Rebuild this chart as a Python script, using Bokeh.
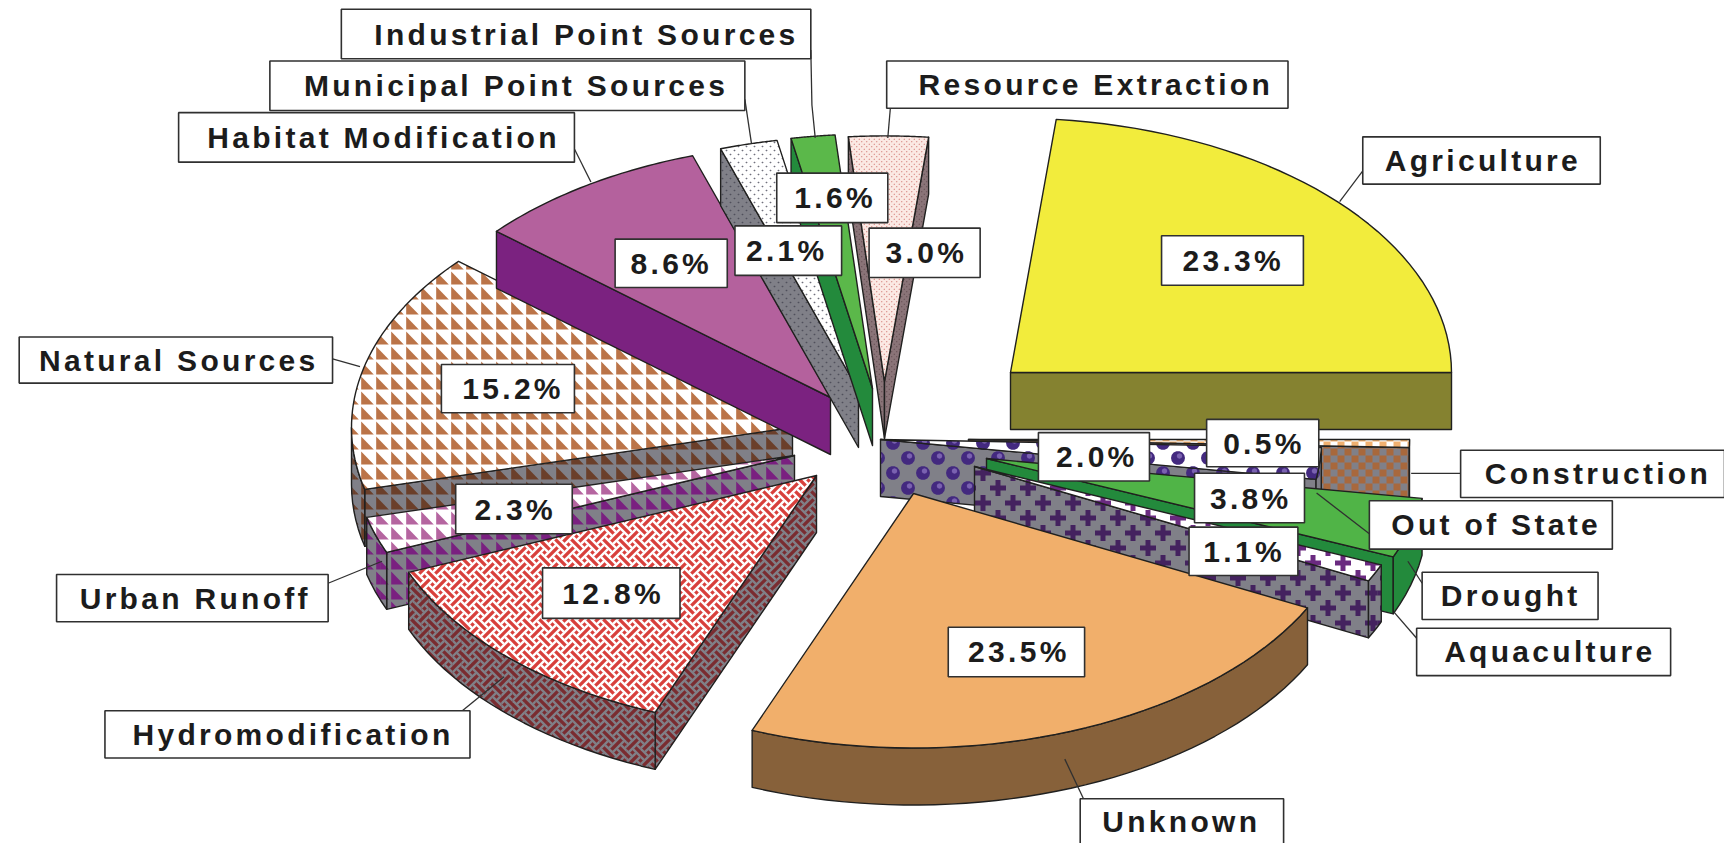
import math
from bokeh.core.properties import value
from bokeh.embed import file_html
from bokeh.models import Range1d
from bokeh.plotting import figure
from bokeh.resources import INLINE

# ---- data ----
categories = ["Agriculture", "Construction", "Out of State", "Drought", "Aquaculture", "Unknown",
              "Hydromodification", "Urban Runoff", "Natural Sources", "Habitat Modification",
              "Municipal Point Sources", "Industrial Point Sources", "Resource Extraction"]
percents = [23.3, 0.5, 2.0, 3.8, 1.1, 23.5, 12.8, 2.3, 15.2, 8.6, 2.1, 1.6, 3.0]

# ---- layout (screen pixels) ----
apex_x = [1010, 968, 880, 986, 974, 913, 816, 794, 792, 830, 858, 872, 884]
apex_y = [372, 439, 439, 458, 466, 493, 475, 455, 427, 397, 390, 388, 381]
radius_factor = [1, 1, 1, 1, 1, 1, 1, 1, 1, 1, 1, 1, 0.965]
RX, RY, DEPTH = 441, 254.5, 57
draw_order = ["Agriculture", "Resource Extraction", "Natural Sources", "Urban Runoff", "Habitat Modification",
              "Municipal Point Sources", "Industrial Point Sources", "Construction", "Out of State",
              "Drought", "Aquaculture", "Hydromodification", "Unknown"]


# ---- fill textures, drawn as small clipped shapes ----
def circle(cx, cy, r, n=14):
    return [(cx + r * math.cos(2 * math.pi * k / n), cy + r * math.sin(2 * math.pi * k / n)) for k in range(n)]


def strip(x0, y0, x1, y1, w):
    dx, dy = x1 - x0, y1 - y0
    L = math.hypot(dx, dy)
    nx, ny = -dy / L * w / 2, dx / L * w / 2
    return [(x0 + nx, y0 + ny), (x1 + nx, y1 + ny), (x1 - nx, y1 - ny), (x0 - nx, y0 - ny)]


def tri_tile(s):
    return [[(0.7, 1), (0.7, s - 1), (s - 1.7, s - 1)]]


def weave_tile(s):
    q, out = s / 8, []
    for off in (-1, 1):
        out.append(strip(-2.7 * q + off * q, -2.7 * q - off * q, 2.7 * q + off * q, 2.7 * q - off * q, 2.3))
        cx, cy = s / 2, s / 2
        out.append(strip(cx - 2.7 * q + off * q, cy + 2.7 * q + off * q, cx + 2.7 * q + off * q, cy - 2.7 * q + off * q, 2.3))
    return out


def dots_tile(s):
    r = s / 8
    return [circle(s / 4, s / 4, r, 6), circle(3 * s / 4, 3 * s / 4, r, 6)]


def balls_tile(s):
    return [circle(s / 4, s / 4, 7), circle(3 * s / 4, 3 * s / 4, 7)]


def shine_tile(s):
    return [circle(s / 4 + 1.5, s / 4 - 2, 2.8, 8), circle(3 * s / 4 + 1.5, 3 * s / 4 - 2, 2.8, 8)]


def plus_tile(s):
    out = []
    for c in (s / 4, 3 * s / 4):
        out.append([(c - 8, c - 2.5), (c + 8, c - 2.5), (c + 8, c + 2.5), (c - 8, c + 2.5)])
        out.append([(c - 2.5, c - 8), (c + 2.5, c - 8), (c + 2.5, c + 8), (c - 2.5, c + 8)])
    return out


def check_tile(s):
    h = s / 2
    return [[(0, 0), (h, 0), (h, h), (0, h)], [(h, h), (s, h), (s, s), (h, s)]]


# category: top base, top motif colour, side base, side motif colour, motif, tile, highlight
style = {
    "Agriculture": ("#f2ec3c", None, "#858230", None, None, 0, None),
    "Construction": ("#ffffff", "#f0b070", "#808088", "#a8683c", check_tile, 14, None),
    "Out of State": ("#ffffff", "#43297f", "#808088", "#43297f", balls_tile, 30, shine_tile),
    "Drought": ("#50b447", None, "#238a3c", None, None, 0, None),
    "Aquaculture": ("#ffffff", "#6a2a80", "#808088", "#44225f", plus_tile, 30, None),
    "Unknown": ("#f1af6b", None, "#87613a", None, None, 0, None),
    "Hydromodification": ("#d8403c", "#ffffff", "#7a2c30", "#808088", weave_tile, 16, None),
    "Urban Runoff": ("#ffffff", "#b565a0", "#808088", "#7a2080", tri_tile, 15, None),
    "Natural Sources": ("#ffffff", "#bb7448", "#808088", "#6b3f2a", tri_tile, 15, None),
    "Habitat Modification": ("#b4619d", None, "#7b2280", None, None, 0, None),
    "Municipal Point Sources": ("#ffffff", "#70707c", "#808088", "#50505c", dots_tile, 8, None),
    "Industrial Point Sources": ("#5bb84a", None, "#238a3c", None, None, 0, None),
    "Resource Extraction": ("#fbe9e4", "#c8605c", "#8a7478", "#5a4448", dots_tile, 5, None),
}

S = 1724 / 1568
name_x0 = [1239, 1328, 1245, 1293, 1288, 982, 95, 51, 17, 162, 245, 310, 806]
name_x1 = [1455, 1568, 1466, 1453, 1519, 1167, 427, 298, 302, 522, 677, 737, 1171]
name_y0 = [124, 409, 455, 520, 571, 726, 646, 522, 306, 102, 55, 8, 55]
name_y1 = [167, 452, 499, 563, 614, 767, 689, 565, 348, 147, 100, 53, 98]
name_tx = [1259, 1350, 1265, 1310, 1313, 1002, 120, 72, 35, 188, 276, 340, 835]
pct_x0 = [1056, 1097, 944, 1086, 1081, 862, 493, 414, 401, 559, 668, 706, 790]
pct_x1 = [1185, 1199, 1045, 1186, 1180, 986, 618, 520, 522, 661, 765, 807, 891]
pct_y0 = [214, 381, 393, 430, 479, 570, 516, 440, 331, 217, 205, 157, 207]
pct_y1 = [259, 424, 437, 475, 523, 615, 562, 485, 375, 261, 250, 202, 252]
pct_tx = [1075, 1112, 960, 1100, 1094, 880, 511, 431, 420, 573, 678, 722, 805]
leader_x = [[1218, 1239], [1283, 1328], [1197, 1245], [1280, 1293], [1268, 1288], [968, 985], [458, 415],
            [347, 298], [327, 302], [537, 522], [683, 677], [741, 738, 737], [807, 810]]
leader_y = [[183, 155], [430, 430], [448, 485], [510, 530], [557, 580], [690, 726], [615, 650],
            [510, 530], [333, 326], [165, 135], [130, 90], [125, 95, 45], [125, 90]]

# ---- figure ----
p = figure(width=1724, height=843, x_range=Range1d(0, 1724), y_range=Range1d(843, 0),
           x_axis_type=None, y_axis_type=None, toolbar_location=None, output_backend="svg",
           min_border=0, outline_line_color=None, background_fill_color="white")
p.grid.visible = False
p.styles = {"letter-spacing": "3.3px", "-webkit-text-stroke": "0.5px #1c1c1c"}

OUT = "#20201f"


def clip(subject, hull):
    """Clip a small shape against a convex polygon."""
    area = sum(hull[i][0] * hull[(i + 1) % len(hull)][1] - hull[(i + 1) % len(hull)][0] * hull[i][1]
               for i in range(len(hull)))
    sign = 1 if area > 0 else -1
    out = subject
    for i in range(len(hull)):
        ax, ay = hull[i]
        bx, by = hull[(i + 1) % len(hull)]
        if (ax, ay) == (bx, by):
            continue
        side = lambda q: sign * ((bx - ax) * (q[1] - ay) - (by - ay) * (q[0] - ax))
        new = []
        for k in range(len(out)):
            c, d = out[k], out[(k + 1) % len(out)]
            sc, sd = side(c), side(d)
            if sc >= 0:
                new.append(c)
            if sc * sd < 0:
                f = sc / (sc - sd)
                new.append((c[0] + f * (d[0] - c[0]), c[1] + f * (d[1] - c[1])))
        out = new
        if not out:
            break
    return out


def textured(hulls, motif, tile, color):
    xs, ys = [], []
    tile_shapes = motif(tile)
    for hull in hulls:
        x0, x1 = min(q[0] for q in hull), max(q[0] for q in hull)
        y0, y1 = min(q[1] for q in hull), max(q[1] for q in hull)
        for i in range(int(x0 // tile) - 1, int(x1 // tile) + 2):
            for j in range(int(y0 // tile) - 1, int(y1 // tile) + 2):
                for shape in tile_shapes:
                    moved = [(q[0] + i * tile, q[1] + j * tile) for q in shape]
                    if max(q[0] for q in moved) < x0 or min(q[0] for q in moved) > x1:
                        continue
                    if max(q[1] for q in moved) < y0 or min(q[1] for q in moved) > y1:
                        continue
                    c = clip(moved, hull)
                    if len(c) >= 3:
                        xs.append([q[0] for q in c])
                        ys.append([q[1] for q in c])
    if xs:
        p.patches(xs, ys, fill_color=color, line_color=None)


def face(outline, hulls, base, color, motif, tile, shine):
    p.patch([q[0] for q in outline], [q[1] for q in outline], fill_color=base, line_color=None)
    if motif:
        textured(hulls, motif, tile, color)
        if shine:
            textured(hulls, shine, tile, "#7a62b0")
    p.patch([q[0] for q in outline], [q[1] for q in outline], fill_color=None, line_color=OUT,
            line_width=1.4, line_join="round")


total = sum(percents)
start = 90 - percents[0] * 360 / total
angles = {}
a = start
for c, v in zip(categories, percents):
    angles[c] = (a, a + v * 360 / total)
    a += v * 360 / total


def pt(ax, ay, th, f=1):
    r = math.radians(th)
    return ax + f * RX * math.sin(r), ay - f * RY * math.cos(r)


for c in draw_order:
    i = categories.index(c)
    ax, ay, f = apex_x[i], apex_y[i], radius_factor[i]
    t0, t1 = angles[c]
    tf, th, sf, sh, motif, tile, shine = style[c]
    sp, ep = pt(ax, ay, t0, f), pt(ax, ay, t1, f)
    for q, other in ((sp, ep), (ep, sp)):
        ex, ey = q[0] - ax, q[1] - ay
        nx, ny = -ey, ex
        if nx * (other[0] - ax) + ny * (other[1] - ay) > 0:
            nx, ny = -nx, -ny
        if ny > 0:
            quad = [(ax, ay), q, (q[0], q[1] + DEPTH), (ax, ay + DEPTH)]
            face(quad, [quad], sf, sh, motif, tile, shine)
    r0, r1 = max(t0, 90), min(t1, 270)
    if r1 > r0:
        n = max(3, int((r1 - r0) / 2))
        arc = [pt(ax, ay, r0 + (r1 - r0) * k / n, f) for k in range(n + 1)]
        outline = arc + [(q[0], q[1] + DEPTH) for q in arc[::-1]]
        hulls = [[arc[k], arc[k + 1], (arc[k + 1][0], arc[k + 1][1] + DEPTH), (arc[k][0], arc[k][1] + DEPTH)]
                 for k in range(n)]
        face(outline, hulls, sf, sh, motif, tile, shine)
    arc = [pt(ax, ay, t0 + (t1 - t0) * k / 40, f) for k in range(41)]
    top = [(ax, ay)] + arc
    face(top, [top], tf, th, motif, tile, shine)

for lx, ly in zip(leader_x, leader_y):
    p.line([v * S for v in lx], [v * S for v in ly], line_color="#303030", line_width=1.3)


def boxes(x0, x1, y0, y1):
    p.quad(left=[v * S for v in x0], right=[v * S for v in x1], top=[v * S for v in y0],
           bottom=[v * S for v in y1], fill_color="white", line_color="#303030", line_width=1.6)


boxes(name_x0, name_x1, name_y0, name_y1)
boxes(pct_x0, pct_x1, pct_y0, pct_y1)

font = dict(text_font=value("Liberation Sans"), text_font_style="bold", text_font_size="30px",
            text_color="#1c1c1c", text_align="left", text_baseline="middle")
p.text([v * S for v in name_tx], [(a + b) / 2 * S for a, b in zip(name_y0, name_y1)], text=categories, **font)
p.text([v * S for v in pct_tx], [(a + b) / 2 * S for a, b in zip(pct_y0, pct_y1)],
       text=[f"{v:.1f}%" for v in percents], **font)

open("out.html", "w").write(file_html(p, INLINE))
